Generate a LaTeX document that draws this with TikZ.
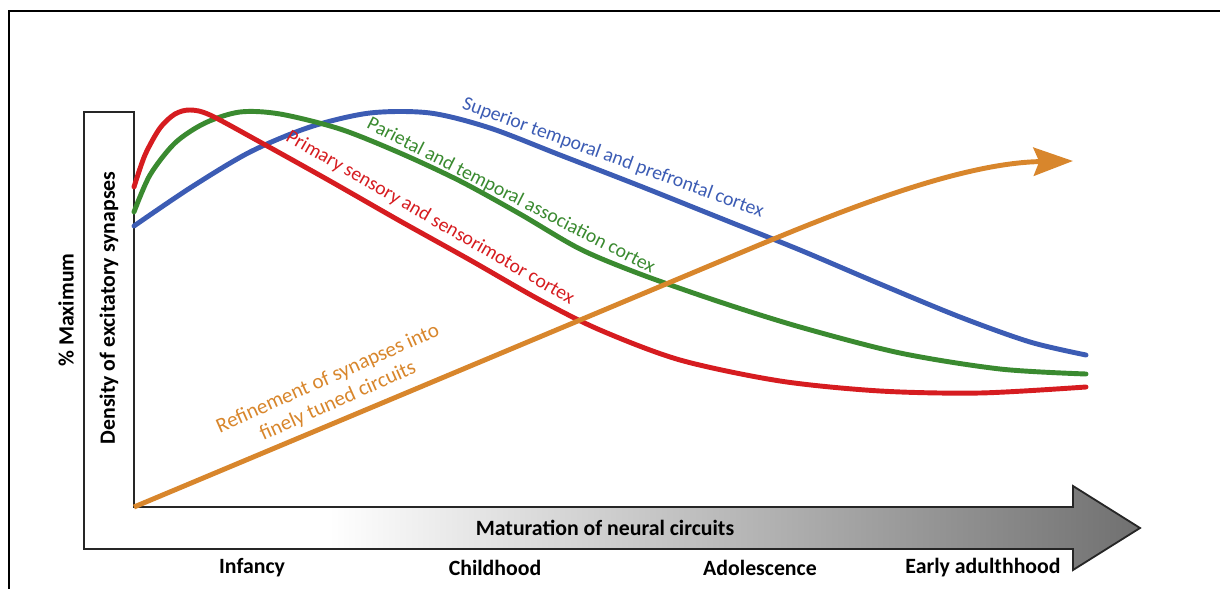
\documentclass[tikz,border=0pt]{standalone}
\usepackage{fontspec}
\setmainfont{Carlito}
\usetikzlibrary{arrows.meta}

\definecolor{redcurve}{RGB}{214,28,32}
\definecolor{greencurve}{RGB}{58,138,48}
\definecolor{bluecurve}{RGB}{60,92,180}
\definecolor{orangecurve}{RGB}{216,134,44}
\pgfdeclarehorizontalshading{maturation}{100bp}{rgb(0bp)=(1,1,1); rgb(36.6bp)=(1,1,1); rgb(75bp)=(0.44,0.44,0.44); rgb(100bp)=(0.44,0.44,0.44)}

\begin{document}
\begin{tikzpicture}[x=0.025cm, y=-0.025cm,
    curve/.style={line width=3.5pt, line cap=round, line join=round},
    lbl/.style={font=\fontsize{14}{17}\selectfont, inner sep=0pt},
    axislbl/.style={font=\fontsize{15.5}{18}\selectfont\bfseries, inner sep=0pt}]

	\useasboundingbox (0,0) rectangle (1220,589);

	% frame
	\draw [line width=1.4pt] (9,589) -- (9,11) -- (1220,11);

	% axes
	\shadedraw [shading=maturation, draw=black!85, line width=1.3pt] (84,112) -- (134,112) -- (134,507) -- (1073,507) -- (1073,486) -- (1140,528) -- (1073,570) -- (1073,549) -- (84,549) -- cycle;
	\node [axislbl] (maturation) at (605,528) {Maturation of neural circuits};
	\node [axislbl, rotate=90] (density) at (109,308) {Density of excitatory synapses};
	\node [axislbl, rotate=90] (maximum) at (66,310) {\% Maximum};

	% stages
	\node [axislbl] (infancy) at (252,568) {Infancy};
	\node [axislbl] (childhood) at (495,568) {Childhood};
	\node [axislbl] (adolescence) at (760,568) {Adolescence};
	\node [axislbl] (adulthood) at (983,568) {Early adulthhood};

	% curves
	\draw [curve, bluecurve] plot [smooth, tension=0.5] coordinates {(134,226) (190,188) (250,152) (310,127) (370,113) (430,113) (490,128) (560,155) (640,186) (720,218) (800,250) (880,284) (960,317) (1030,342) (1086,355)};
	\draw [curve, greencurve] plot [smooth, tension=0.5] coordinates {(134,212) (150,175) (175,143) (205,123) (240,112) (280,114) (340,129) (400,153) (460,181) (520,214) (580,249) (640,274) (720,302) (800,327) (900,353) (1000,369) (1086,374)};
	\draw [curve, redcurve] plot [smooth, tension=0.5] coordinates {(134,187) (145,155) (160,128) (175,114) (190,110) (210,115) (260,142) (330,181) (400,221) (470,260) (540,300) (600,330) (680,360) (780,381) (880,391) (980,393) (1086,387)};

	% refinement arrow
	\coordinate (origin) at (134,507);
	\coordinate (tip) at (1073,161);
	\draw [curve, orangecurve, line cap=butt, -{Stealth[length=28pt, width=20pt, inset=4pt]}] (origin) -- (740,253) .. controls (840,211) and (960,163) .. (tip);

	% labels
	\node [lbl, bluecurve, rotate=-20] (superior) at (613,158) {Superior temporal and prefrontal cortex};
	\node [lbl, greencurve, rotate=-27] (parietal) at (511,196) {Parietal and temporal association cortex};
	\node [lbl, redcurve, rotate=-30] (primary) at (430,218) {Primary sensory and sensorimotor cortex};
	\node [lbl, orangecurve, font=\fontsize{15}{17.5}\selectfont, rotate=24, align=center] (refinement) at (333,390) {Refinement of synapses into\\finely tuned circuits};

\end{tikzpicture}
\end{document}
